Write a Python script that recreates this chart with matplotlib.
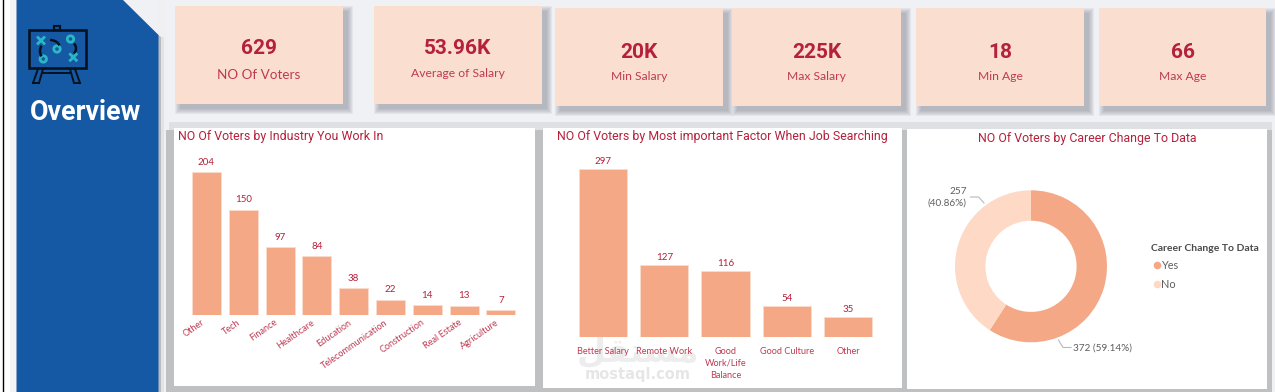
import matplotlib
matplotlib.use("Agg")
import matplotlib.pyplot as plt
from matplotlib.patches import Rectangle, Polygon, Circle, Arc
from matplotlib.transforms import ScaledTranslation

W, H = 1275, 392

# datos
kpi_values = ["629", "53.96K", "20K", "225K", "18", "66"]
kpi_labels = ["NO Of Voters", "Average of Salary", "Min Salary", "Max Salary", "Min Age", "Max Age"]

industries = ["Other", "Tech", "Finance", "Healthcare", "Education", "Telecommunication",
              "Construction", "Real Estate", "Agriculture"]
industry_votes = [204, 150, 97, 84, 38, 22, 14, 13, 7]

factors = ["Better Salary", "Remote Work", "Good\nWork/Life\nBalance", "Good Culture", "Other"]
factor_votes = [297, 127, 116, 54, 35]

career_labels = ["Yes", "No"]
career_votes = [372, 257]
career_pct = [59.14, 40.86]

RED = "#b5203a"
RED_SOFT = "#bf3a52"
BAR = "#f4a886"
BAR_LIGHT = "#fdd9c6"
CARD = "#fadfd0"
BLUE = "#1558a3"
GRAY = "#605e5c"
INK = "#06121f"
TEAL = "#2bb8c4"
TITLE_FONT = "Roboto"
TEXT_FONT = "Lato"

fig = plt.figure(figsize=(W / 100, H / 100), dpi=100, facecolor="#f0f1f5")

# eje de fondo en pixeles
bg = fig.add_axes([0, 0, 1, 1], zorder=0)
bg.set_xlim(0, W)
bg.set_ylim(H, 0)
bg.axis("off")

# eje de textos encima de todo
top = fig.add_axes([0, 0, 1, 1], zorder=5)
top.set_xlim(0, W)
top.set_ylim(H, 0)
top.axis("off")
top.patch.set_alpha(0)


def axes_px(x0, y0, x1, y1):
    return fig.add_axes([x0 / W, 1 - y1 / H, (x1 - x0) / W, (y1 - y0) / H], zorder=3)


def shadow(x0, y0, x1, y1, off=5):
    for grow in [5, 4, 3, 2, 1, 0]:
        bg.add_patch(Rectangle((x0 + off - grow, y0 + off - grow), x1 - x0 + 2 * grow, y1 - y0 + 2 * grow,
                               fc="#6f7680", ec="none", alpha=0.09))


# barra lateral
bg.add_patch(Rectangle((0, 0), 10, H, fc="white", ec="none"))
bg.add_patch(Rectangle((10, 0), 6.5, H, fc="#f2f3f4", ec="none"))
bg.plot([2.5, 2.5], [0, H], color="black", lw=1)
bg.add_patch(Rectangle((158, 0), 8, H, fc="#f0f0f2", ec="none"))
bg.add_patch(Polygon([(158, 35), (161, 37), (161, H), (158, H)], fc="#b9bbbe", ec="none"))
bg.add_patch(Rectangle((161, 37), 3, H - 37, fc="#e2e3e5", ec="none"))
bg.add_patch(Polygon([(16.5, 0), (123, 0), (158.5, 35), (158.5, H), (16.5, H)], fc=BLUE, ec="none"))

# icono de la pizarra
bg.add_patch(Rectangle((28.5, 30), 57.5, 38, fc="none", ec=INK, lw=1.9))
bg.add_patch(Rectangle((54, 25.5), 6, 4.5, fc="none", ec=INK, lw=1.5))
for xs, ys in [([38, 33], [69, 83]), ([43, 39], [69, 83]), ([70, 74], [69, 83]), ([75, 80], [69, 83]),
               ([33, 39], [83, 83]), ([74, 80], [83, 83]), ([42, 71], [72.5, 72.5])]:
    bg.plot(xs, ys, color=INK, lw=1.4)
for cx, cy in [(57, 49), (70.5, 39), (43.3, 59)]:
    bg.add_patch(Circle((cx, cy), 3.2, fc="none", ec=TEAL, lw=2))
for cx, cy in [(41, 40.5), (73.3, 57.3)]:
    bg.plot([cx - 3, cx + 3], [cy - 3, cy + 3], color=TEAL, lw=2)
    bg.plot([cx - 3, cx + 3], [cy + 3, cy - 3], color=TEAL, lw=2)
bg.add_patch(Arc((46, 51), 12, 16, theta1=130, theta2=230, ec=INK, lw=1.8))
bg.add_patch(Arc((50, 48), 20, 16, theta1=270, theta2=345, ec=INK, lw=1.8))
bg.add_patch(Arc((71, 48.5), 10, 12, theta1=300, theta2=60, ec=INK, lw=1.8))

top.text(85.5, 112, "Overview", color="white", fontsize=19.3, fontweight="bold",
         family=TITLE_FONT, ha="center", va="center")

# tarjetas
card_boxes = [(175, 6, 343, 104), (373.5, 6, 542, 104), (555, 8, 723, 106),
              (732, 8, 901, 106), (916, 8, 1084, 106), (1099, 8, 1266, 106)]
value_y = [48, 48, 52.5, 52.5, 52.5, 52.5]
label_y = [74.5, 73.5, 76.5, 76.5, 76.5, 76.5]
label_size = [9.7, 8.7, 8.7, 8.7, 8.7, 8.7]
for i, box in enumerate(card_boxes):
    x0, y0, x1, y1 = box
    shadow(x0, y0, x1, y1)
    bg.add_patch(Rectangle((x0, y0), x1 - x0, y1 - y0, fc=CARD, ec="none"))
    cx = (x0 + x1) / 2
    top.text(cx, value_y[i], kpi_values[i], color=RED, fontsize=15, fontweight="bold",
             family=TITLE_FONT, ha="center", va="center")
    top.text(cx, label_y[i], kpi_labels[i], color=RED_SOFT, fontsize=label_size[i],
             family=TEXT_FONT, ha="center", va="center")

# franja gris detras de los paneles
bg.add_patch(Rectangle((169, 122), 1103, 8, fc="#dfe0e3", ec="none"))
bg.add_patch(Rectangle((165.5, 130), 1106, H - 130, fc="#bfc0c2", ec="none"))

# paneles blancos
panel_boxes = [(174, 128, 535, 386), (543, 128, 902, 388), (907, 129, 1267, 389)]
for x0, y0, x1, y1 in panel_boxes:
    bg.add_patch(Rectangle((x0, y0), x1 - x0, y1 - y0, fc="white", ec="none"))

top.text(178, 136, "NO Of Voters by Industry You Work In", color=RED, fontsize=8.9,
         family=TITLE_FONT, ha="left", va="center")
top.text(722, 136, "NO Of Voters by Most important Factor When Job Searching", color=RED, fontsize=8.9,
         family=TITLE_FONT, ha="center", va="center")
top.text(1087, 138, "NO Of Voters by Career Change To Data", color=RED, fontsize=8.9,
         family=TITLE_FONT, ha="center", va="center")

# marca de agua
bg.text(638, 352, "\ufede\ufed8\ufe98\ufeb4\ufee3", color="#ededed", fontsize=24, fontweight="bold",
        family="DejaVu Sans", ha="center", va="center")
bg.text(638, 375, "mostaql.com", color="#e6e6e6", fontsize=10.5, fontweight="bold",
        family="DejaVu Sans", ha="center", va="center")


def barras(ax, cats, vals, ymax, label_rot, label_pad):
    pos = list(range(len(cats)))
    bars = ax.bar(pos, vals, width=0.79, color=BAR, edgecolor="#fbdccd", linewidth=0.6)
    ax.set_xlim(-0.5, len(cats) - 0.5)
    ax.set_ylim(0, ymax)
    ax.patch.set_alpha(0)
    for s in ax.spines.values():
        s.set_visible(False)
    ax.set_yticks([])
    ax.set_xticks(pos)
    if label_rot:
        ax.set_xticklabels(cats, rotation=label_rot, ha="right", rotation_mode="anchor",
                           color=RED_SOFT, fontsize=6.6, family=TEXT_FONT)
        ax.tick_params(axis="x", length=0, pad=2)
        # las etiquetas giradas terminan un poco antes del centro de la barra
        desplaza = ScaledTranslation(-6 / 100, 0, fig.dpi_scale_trans)
        for lab in ax.get_xticklabels():
            lab.set_transform(lab.get_transform() + desplaza)
    else:
        ax.set_xticklabels(cats, color=RED_SOFT, fontsize=6.6, family=TEXT_FONT, linespacing=1.45)
        ax.tick_params(axis="x", length=0, pad=7)
    ax.bar_label(bars, padding=label_pad, color=RED, fontsize=7, family=TEXT_FONT)


ax1 = axes_px(188.1, 140, 519.3, 315)
barras(ax1, industries, industry_votes, 250, 35, 4)

ax2 = axes_px(572.3, 156, 878.8, 337)
barras(ax2, factors, factor_votes, 320, 0, 2.5)

# dona
ax3 = axes_px(955, 190.3, 1107, 342.3)
ax3.pie(career_votes, colors=[BAR, BAR_LIGHT], startangle=90, counterclock=False,
        radius=1, wedgeprops={"width": 0.4, "linewidth": 0})
ax3.set_xlim(-1, 1)
ax3.set_ylim(-1, 1)

top.plot([984, 978.5, 970.5], [203, 197, 197], color="#b9b9b9", lw=0.8)
top.plot([1058.5, 1063, 1071], [340, 347.5, 347.5], color="#b9b9b9", lw=0.8)
top.text(967, 191.5, f"{career_votes[1]}", color=GRAY, fontsize=7.2, family=TEXT_FONT, ha="right", va="center")
top.text(967, 203.5, f"({career_pct[1]}%)", color=GRAY, fontsize=7.2, family=TEXT_FONT, ha="right", va="center")
top.text(1073, 348, f"{career_votes[0]} ({career_pct[0]}%)", color=GRAY, fontsize=7.2,
         family=TEXT_FONT, ha="left", va="center")

# leyenda
top.text(1151, 248.5, "Career Change To Data", color="#4a4a4a", fontsize=7.5, fontweight="bold",
         family=TEXT_FONT, ha="left", va="center")
legend_y = [264.5, 283.5]
legend_colors = [BAR, BAR_LIGHT]
for yy, col, lab in zip(legend_y, legend_colors, career_labels):
    top.scatter([1156.5], [yy], s=30, color=col, linewidths=0)
    top.text(1161.5, yy + 1, lab, color=GRAY, fontsize=7.8, family=TEXT_FONT, ha="left", va="center")

fig.savefig("out.png", dpi=100)
